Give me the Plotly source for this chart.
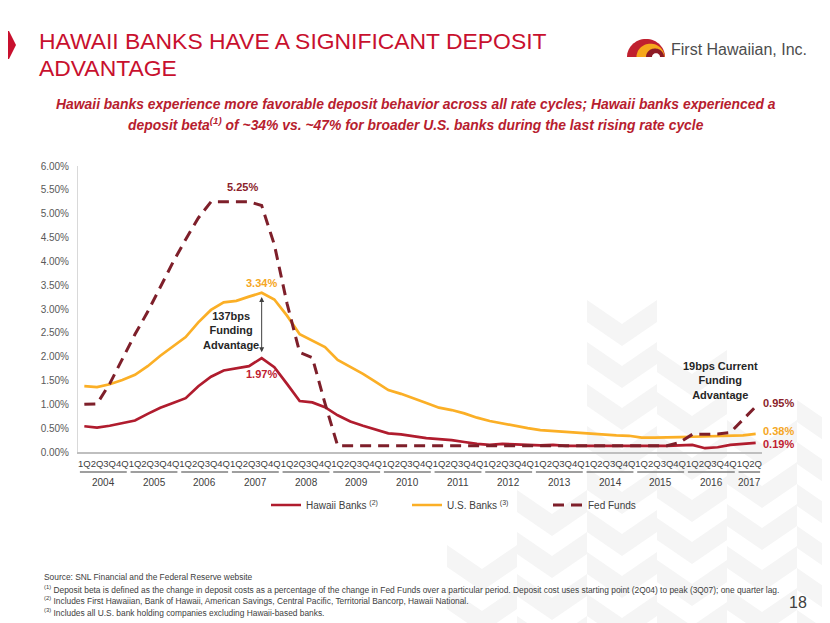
import math
import plotly.graph_objects as go

# ---------------- data ----------------
quarter_labels = ["1Q", "2Q", "3Q", "4Q"] * 13 + ["1Q", "2Q"]
years = [2004, 2005, 2006, 2007, 2008, 2009, 2010, 2011, 2012, 2013, 2014, 2015, 2016, 2017]

hawaii_banks = [
    0.54, 0.51, 0.55, 0.60, 0.66, 0.80, 0.93, 1.03, 1.13, 1.38,
    1.58, 1.71, 1.75, 1.80, 1.97, 1.78, 1.43, 1.07, 1.04, 0.94,
    0.77, 0.64, 0.55, 0.47, 0.39, 0.37, 0.33, 0.29, 0.27, 0.25,
    0.21, 0.17, 0.15, 0.17, 0.16, 0.15, 0.14, 0.15, 0.13, 0.13,
    0.13, 0.13, 0.12, 0.13, 0.12, 0.13, 0.13, 0.14, 0.15, 0.08,
    0.10, 0.15, 0.17, 0.19,
]
us_banks = [
    1.38, 1.36, 1.42, 1.51, 1.62, 1.80, 2.02, 2.21, 2.41, 2.72,
    2.98, 3.14, 3.17, 3.26, 3.34, 3.20, 2.86, 2.47, 2.33, 2.20,
    1.93, 1.79, 1.64, 1.47, 1.30, 1.22, 1.13, 1.03, 0.93, 0.88,
    0.81, 0.72, 0.65, 0.60, 0.54, 0.50, 0.46, 0.44, 0.42, 0.40,
    0.38, 0.36, 0.35, 0.34, 0.30, 0.30, 0.30, 0.31, 0.32, 0.33,
    0.33, 0.34, 0.35, 0.38,
]
fed_funds = [
    1.00, 1.01, 1.43, 1.95, 2.47, 2.94, 3.46, 3.98, 4.46, 4.91,
    5.25, 5.25, 5.26, 5.25, 5.17, 4.35, 3.12, 2.09, 1.98, 1.02,
    0.13, 0.13, 0.13, 0.13, 0.13, 0.13, 0.13, 0.13, 0.13, 0.13,
    0.13, 0.13, 0.13, 0.13, 0.13, 0.13, 0.13, 0.13, 0.13, 0.13,
    0.13, 0.13, 0.13, 0.13, 0.13, 0.13, 0.13, 0.20, 0.37, 0.37,
    0.38, 0.41, 0.67, 0.95,
]
series_names = ["Hawaii Banks <sup>(2)</sup>", "U.S. Banks <sup>(3)</sup>", "Fed Funds"]

# ---------------- layout geometry ----------------
# page is rendered with an 8px body margin, so the figure is sized/offset to compensate
OFF = 8
W, H = 830 - OFF, 623 - OFF
Lp, Rp, Tp, Bp = 78, 762, 166, 452     # plot area in page pixels
RED = "#C8102E"
HAWAII_COL = "#B01C2E"
US_COL = "#FBAF26"
FED_COL = "#7E1F2A"
SANS = "Liberation Sans, Arial, sans-serif"


def px_x(x):
    return (x - Lp) / (Rp - Lp)


def px_y(y):
    return (Bp - y) / (Bp - Tp)


def poly(points):
    return "M " + " L ".join(f"{px_x(a):.4f},{px_y(b):.4f}" for a, b in points) + " Z"


x_idx = list(range(len(quarter_labels)))

fig = go.Figure()
fig.add_trace(go.Scatter(x=x_idx, y=hawaii_banks, mode="lines", name=series_names[0],
                         line=dict(color=HAWAII_COL, width=2.7)))
fig.add_trace(go.Scatter(x=x_idx, y=us_banks, mode="lines", name=series_names[1],
                         line=dict(color=US_COL, width=2.7)))
fig.add_trace(go.Scatter(x=x_idx, y=fed_funds, mode="lines", name=series_names[2],
                         line=dict(color=FED_COL, width=3, dash="11px,7px")))

shapes = []
annotations = []

# faint chevron watermark
chev_cols = [(482, 545), (552, 490), (622, 300), (692, 350), (762, 420), (832, 400)]
for cx, ystart in chev_cols:
    y0 = ystart
    while y0 < 640:
        hw, d, t = 35, 24, 22
        pts = [(cx - hw, y0), (cx, y0 + d), (cx + hw, y0), (cx + hw, y0 + t),
               (cx, y0 + d + t), (cx - hw, y0 + t)]
        shapes.append(dict(type="path", path=poly(pts), xref="paper", yref="paper",
                           fillcolor="#F5F5F5", line=dict(width=0), layer="below"))
        y0 += 42

# left red arrow marker
shapes.append(dict(type="path", xref="paper", yref="paper", fillcolor=RED, line=dict(width=0),
                   path=poly([(8, 31), (9, 31), (16, 45), (9, 59), (8, 59)])))


# logo arches
def half_disc(cx, cy, r, color):
    p = [(cx - r * math.cos(math.pi * k / 30), cy - r * math.sin(math.pi * k / 30) * 0.95)
         for k in range(31)]
    return dict(type="path", xref="paper", yref="paper", fillcolor=color, line=dict(width=0),
                path=poly(p))


shapes.append(half_disc(646, 57, 19, "#C0202F"))
shapes.append(half_disc(650.5, 57, 14, "#F6A81C"))
shapes.append(half_disc(655, 57, 9, "#8E1B26"))
shapes.append(half_disc(656, 57, 4, "white"))

# year groupings under the x axis
for k, yr in enumerate(years):
    s = 4 * k
    e = min(4 * k + 3, len(quarter_labels) - 1)
    shapes.append(dict(type="line", xref="x", yref="paper", x0=s - 0.5 + 0.15, x1=e + 0.5 - 0.15,
                       y0=px_y(472), y1=px_y(472), line=dict(color="#7F7F7F", width=1.5)))
    annotations.append(dict(text=str(yr), x=(s + e) / 2, y=px_y(482), xref="x", yref="paper",
                            showarrow=False, font=dict(family=SANS, size=10, color="#404040"),
                            xanchor="center", yanchor="middle"))

# title
for txt, yy in [("HAWAII BANKS HAVE A SIGNIFICANT DEPOSIT", 41), ("ADVANTAGE", 68)]:
    annotations.append(dict(text=txt, x=px_x(37), y=px_y(yy), xref="paper", yref="paper",
                            showarrow=False, xanchor="left", yanchor="middle",
                            font=dict(family=SANS, size=22.9, color=RED)))
# logo text
annotations.append(dict(text="First Hawaiian, Inc.", x=px_x(669), y=px_y(50), xref="paper", yref="paper",
                        showarrow=False, xanchor="left", yanchor="middle",
                        font=dict(family=SANS, size=16, color="#4D4D4D")))
# subtitle
sub1 = "<b><i>Hawaii banks experience more favorable deposit behavior across all rate cycles; Hawaii banks experienced a</i></b>"
sub2 = "<b><i>deposit beta<sup>(1)</sup> of ~34% vs. ~47% for broader U.S. banks during the last rising rate cycle</i></b>"
for txt, yy in [(sub1, 104), (sub2, 124)]:
    annotations.append(dict(text=txt, x=px_x(416), y=px_y(yy), xref="paper", yref="paper",
                            showarrow=False, xanchor="center", yanchor="middle",
                            font=dict(family=SANS, size=13.9, color="#B7202E")))

# data labels and call-outs
annotations += [
    dict(text="<b>5.25%</b>", x=12.5, y=5.55, xref="x", yref="y", showarrow=False,
         font=dict(family=SANS, size=11, color="#8B1E2B")),
    dict(text="<b>3.34%</b>", x=14, y=3.55, xref="x", yref="y", showarrow=False,
         font=dict(family=SANS, size=11, color="#F5A623")),
    dict(text="<b>1.97%</b>", x=14, y=1.64, xref="x", yref="y", showarrow=False,
         font=dict(family=SANS, size=11, color="#C0202F")),
    dict(text="<b>137bps<br>Funding<br>Advantage</b>", x=11.6, y=2.54, xref="x", yref="y",
         showarrow=False, font=dict(family=SANS, size=11, color="#262626")),
    dict(text="", x=14, y=3.25, ax=14, ay=2.06, xref="x", yref="y", axref="x", ayref="y",
         showarrow=True, arrowhead=2, startarrowhead=2, arrowside="end+start", arrowsize=1,
         arrowwidth=1, arrowcolor="#404040"),
    dict(text="<b>19bps Current<br>Funding<br>Advantage</b>", x=50.2, y=1.51, xref="x", yref="y",
         showarrow=False, font=dict(family=SANS, size=11, color="#262626")),
    dict(text="<b>0.95%</b>", x=px_x(761), y=1.03, xref="paper", yref="y", showarrow=False,
         xanchor="left", font=dict(family=SANS, size=11, color="#8B1E2B")),
    dict(text="<b>0.38%</b>", x=px_x(761), y=0.44, xref="paper", yref="y", showarrow=False,
         xanchor="left", font=dict(family=SANS, size=11, color="#F5A623")),
    dict(text="<b>0.19%</b>", x=px_x(761), y=0.16, xref="paper", yref="y", showarrow=False,
         xanchor="left", font=dict(family=SANS, size=11, color="#C0202F")),
]

# footnotes
foot = [
    ("Source: SNL Financial and the Federal Reserve website", 577),
    ("<sup>(1)</sup> Deposit beta is defined as the change in deposit costs as a percentage of the change in Fed Funds over a particular period. Deposit cost uses starting point (2Q04) to peak (3Q07); one quarter lag.", 589),
    ("<sup>(2)</sup> Includes First Hawaiian, Bank of Hawaii, American Savings, Central Pacific, Territorial Bancorp, Hawaii National.", 600),
    ("<sup>(3)</sup> Includes all U.S. bank holding companies excluding Hawaii-based banks.", 612),
]
for txt, yy in foot:
    annotations.append(dict(text=txt, x=px_x(42), y=px_y(yy), xref="paper", yref="paper",
                            showarrow=False, xanchor="left", yanchor="middle",
                            font=dict(family=SANS, size=8.4, color="#404040")))
annotations.append(dict(text="18", x=px_x(798), y=px_y(602), xref="paper", yref="paper",
                        showarrow=False, xanchor="center", yanchor="middle",
                        font=dict(family=SANS, size=16, color="#404040")))

fig.update_layout(
    width=W, height=H,
    margin=dict(l=Lp - OFF, r=W - (Rp - OFF), t=Tp - OFF, b=H - (Bp - OFF), pad=0),
    paper_bgcolor="white", plot_bgcolor="rgba(0,0,0,0)",
    showlegend=True,
    legend=dict(orientation="h", x=px_x(266), y=px_y(505), xanchor="left", yanchor="middle",
                font=dict(family=SANS, size=10, color="#404040"),
                itemwidth=30, entrywidth=96, entrywidthmode="pixels",
                bgcolor="rgba(0,0,0,0)", tracegroupgap=0),
    shapes=shapes, annotations=annotations,
    xaxis=dict(range=[-0.5, len(quarter_labels) - 0.5], tickmode="array", tickvals=x_idx,
               ticktext=quarter_labels, showgrid=False, zeroline=False, showline=True,
               linecolor="#BFBFBF", linewidth=2, ticks="", tickangle=0, ticklabelstandoff=2,
               tickfont=dict(family=SANS, size=9.5, color="#404040"), fixedrange=True),
    yaxis=dict(range=[0, 6], dtick=0.5, tick0=0, tickformat=".2f", ticksuffix="%",
               showgrid=False, zeroline=False, showline=True, linecolor="#D9D9D9", linewidth=1,
               ticks="", ticklabelstandoff=6,
               tickfont=dict(family=SANS, size=10, color="#595959"), fixedrange=True),
    font=dict(family=SANS),
)

fig.write_html("out.html")
